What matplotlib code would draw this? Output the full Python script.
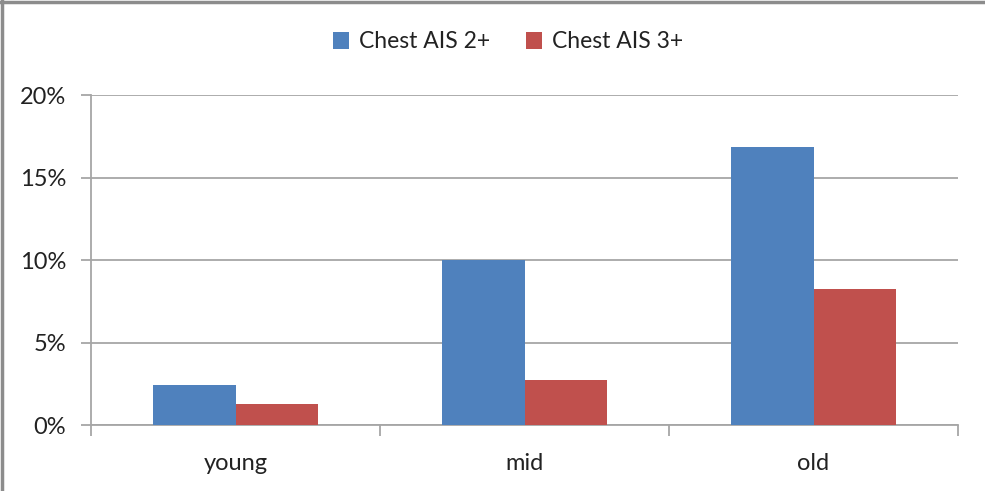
import numpy as np
import matplotlib.pyplot as plt
from matplotlib.lines import Line2D
from matplotlib.ticker import FuncFormatter

plt.rcParams['font.family'] = ['Lato', 'DejaVu Sans']

# data
groups = ['young', 'mid', 'old']
ais2 = [2.43, 10.0, 16.85]
ais3 = [1.27, 2.73, 8.25]
series_names = ['Chest AIS 2+', 'Chest AIS 3+']

blue = '#4F81BD'
red = '#C0504D'
grid = '#A6A6A6'

fig = plt.figure(figsize=(9.85, 4.91), dpi=100)
ax = fig.add_axes([91 / 985, 66 / 491, 867 / 985, 329.7 / 491])

x = np.arange(len(groups))
w = 1 / 3.5
ax.bar(x - w / 2, ais2, w, color=blue, label=series_names[0], zorder=3)
ax.bar(x + w / 2, ais3, w, color=red, label=series_names[1], zorder=3)

ax.set_xlim(-0.5, len(groups) - 0.5)
ax.set_ylim(0, 20)
ax.set_yticks([0, 5, 10, 15, 20])
ax.yaxis.set_major_formatter(FuncFormatter(lambda v, p: '%d%%' % v))
ax.yaxis.grid(True, color=grid, linewidth=1.3, zorder=0)

# category labels centred, tick marks on the boundaries
ax.set_xticks(np.arange(-0.5, len(groups), 1.0))
ax.set_xticklabels([])
ax.set_xticks(x, minor=True)
ax.set_xticklabels(groups, minor=True)
ax.tick_params(axis='x', which='minor', length=0, pad=20, labelsize=17, labelcolor='#222222')
ax.tick_params(axis='x', which='major', length=8, width=1.3, color=grid)
ax.tick_params(axis='y', length=7, width=1.3, color=grid, labelsize=17, pad=11, labelcolor='#222222')

for s in ['top', 'right']:
    ax.spines[s].set_visible(False)
for s in ['left', 'bottom']:
    ax.spines[s].set_color(grid)
    ax.spines[s].set_linewidth(1.3)

ax.legend(loc='center', bbox_to_anchor=(508 / 985, 1 - 42 / 491),
          bbox_transform=fig.transFigure, ncol=2, frameon=False,
          fontsize=16.5, handlelength=0.7, handleheight=0.7,
          handletextpad=0.4, columnspacing=1.6, labelcolor='#222222')

# chart area border (only top and left visible in the reference)
fig.add_artist(Line2D([0, 1], [1 - 1.5 / 491] * 2, transform=fig.transFigure,
                      color='#8C8C8C', linewidth=2.5))
fig.add_artist(Line2D([2 / 985] * 2, [0, 1], transform=fig.transFigure,
                      color='#8C8C8C', linewidth=2.5))

fig.savefig('out.png', dpi=100)
